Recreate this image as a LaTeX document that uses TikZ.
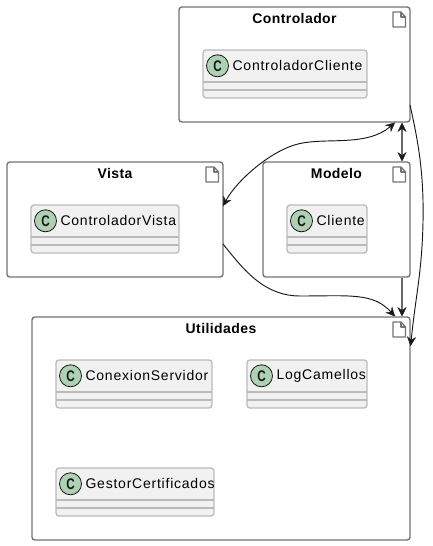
\documentclass[tikz,border=0pt]{standalone}
\usepackage{fontspec}
\setmainfont{Liberation Sans}
\newfontfamily\titlefont[LetterSpace=3,Scale=1.0]{Liberation Sans Bold}
\newfontfamily\classfont[LetterSpace=5.5,Scale=1.0]{Liberation Sans}
\usetikzlibrary{arrows.meta,calc}
\definecolor{lineDark}{HTML}{181818}
\definecolor{pkgBorder}{HTML}{747474}
\definecolor{clsBorder}{HTML}{BBBBBB}
\definecolor{clsFill}{HTML}{F1F1F1}
\definecolor{spot}{HTML}{ADD1B2}
\def\pxu{0.75pt}
\tikzset{
  pkgbox/.style={draw=pkgBorder,line width=1.05pt,fill=white,rounded corners=2.2pt,anchor=north west,inner sep=0pt,outer sep=0pt},
  pkgtitle/.style={font=\titlefont\fontsize{10.5}{12}\selectfont,text=black,inner sep=0pt},
  clsbox/.style={draw=clsBorder,line width=0.95pt,fill=clsFill,rounded corners=2.2pt,anchor=north west,inner sep=0pt,outer sep=0pt},
  clsline/.style={draw=clsBorder,line width=0.95pt},
  clstext/.style={font=\classfont\fontsize{10.5}{12}\selectfont,text=black,inner sep=0pt,anchor=west},
  spotc/.style={circle,draw=lineDark,line width=0.6pt,fill=spot,minimum size=16.5pt,inner sep=0pt,font=\bfseries\fontsize{11}{12}\selectfont,text=lineDark},
  iconline/.style={draw=pkgBorder,line width=0.95pt,line join=round,fill=white},
  curvearrow/.style={draw=lineDark,line width=0.7pt},
  vertarrow/.style={draw=lineDark!65!white,line width=1.1pt},
  tip/.tip={Stealth[length=7pt,width=6.8pt,inset=2.4pt,color=lineDark,line width=0.2pt]}
}
% #1 name, #2 x, #3 y, #4 w, #5 h, #6 title
\newcommand{\pkgnode}[6]{%
  \node[pkgbox,minimum width=#4*\pxu,minimum height=#5*\pxu] (#1) at (#2,#3) {};
  \node[pkgtitle] (#1title) at ($(#1.north)+(0,11)$) {#6};
  \path[iconline] ($(#1.north east)+(-17,5)$) -- ++(8,0) -- ++(4.6,5) -- ++(0,10) -- ++(-12.6,0) -- cycle;
  \path[iconline,fill=none] ($(#1.north east)+(-9,5)$) -- ++(0,5) -- ++(4.6,0);
}
% #1 name, #2 x, #3 y, #4 w, #5 text
\newcommand{\clsnode}[5]{%
  \node[clsbox,minimum width=#4*\pxu,minimum height=48*\pxu] (#1) at (#2,#3) {};
  \path[clsline] ($(#1.north west)+(0,32)$) -- ($(#1.north east)+(0,32)$);
  \path[clsline] ($(#1.north west)+(0,40)$) -- ($(#1.north east)+(0,40)$);
  \node[spotc] (#1spot) at ($(#1.north west)+(14.5,15.8)$) {\scalebox{0.8}[1.05]{C}};
  \node[clstext] (#1text) at ($(#1.north west)+(29.3,15.8)$) {#5};
}
\begin{document}
\begin{tikzpicture}[x=0.75pt,y=-0.75pt]
\useasboundingbox (0,0) rectangle (432,546);
\fill[white] (0,0) rectangle (432,546);

\pkgnode{ctrl}{179}{7}{231}{115}{Controlador}
\pkgnode{vista}{7}{162}{216}{115}{Vista}
\pkgnode{modelo}{263}{162}{147}{115}{Modelo}
\pkgnode{util}{32}{317}{378}{223}{Utilidades}

\clsnode{cc}{203}{50}{164}{ControladorCliente}
\clsnode{cv}{31}{205}{148}{ControladorVista}
\clsnode{cl}{287}{205}{80}{Cliente}
\clsnode{cs}{56}{360}{156}{ConexionServidor}
\clsnode{lc}{247}{360}{120}{LogCamellos}
\clsnode{gc}{56}{468}{158}{GestorCertificados}

% connectors
\coordinate (midA) at (300,143.5);
\coordinate (midB) at (423,222);
\coordinate (midC) at (300,296);

\draw[curvearrow,tip-tip] ($(vista.north east)+(0,44)$) .. controls +(14,-26) and +(-28,6) .. (midA)
   .. controls +(28,-6) and +(-28,24) .. ($(ctrl.south east)+(-15,0.6)$);
\draw[vertarrow,tip-tip] ($(ctrl.south east)+(-8,0.6)$) -- ($(modelo.north east)+(-8,-0.6)$);
\draw[curvearrow,-tip] ($(ctrl.north east)+(0,98)$) .. controls +(8,36) and +(1,-50) .. (midB)
   .. controls +(-1,50) and +(5,-50) .. ($(util.north east)+(0.6,29)$);
\draw[curvearrow,-tip] ($(vista.north east)+(0,82)$) .. controls +(18,22) and +(-38,0) .. (midC)
   .. controls +(50,0) and +(-22,-24) .. ($(util.north east)+(-15,-0.6)$);
\draw[vertarrow,-tip] ($(modelo.south east)+(-8,0.6)$) -- ($(util.north east)+(-8,-0.6)$);
\end{tikzpicture}
\end{document}
